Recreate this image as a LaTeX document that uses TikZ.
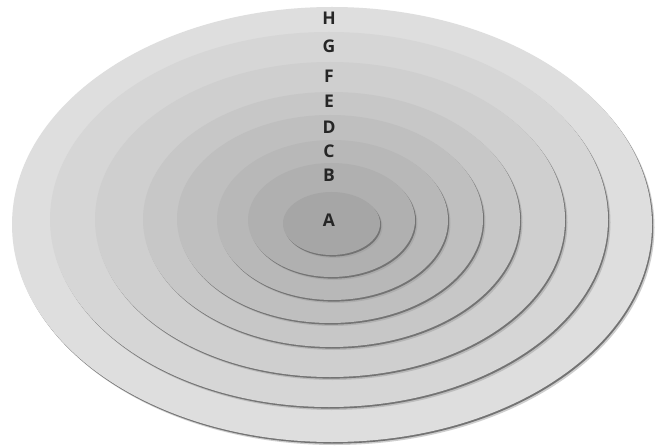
\documentclass[tikz,border=0pt]{standalone}
\usepackage{fontspec}
\setsansfont{Open Sans}
\begin{document}
\begin{tikzpicture}[x=1pt,y=-1pt,
  lbl/.style={font=\sffamily\bfseries\fontsize{17.5}{17.5}\selectfont, text=black!85, inner sep=0pt},
  shadowfar/.style={fill=black!38, opacity=0.5},
  shadownear/.style={fill=black!55}]
\useasboundingbox (0,0) rectangle (663,446);
\fill[white] (0,0) rectangle (663,446);
\foreach \nm/\cx/\cy/\rx/\ry/\g in {
  H/332/224.5/320/217.5/13,
  G/329/219.5/279/187.5/16,
  F/330/219.5/235/157.5/19,
  E/331.5/219.5/188.5/127.5/22,
  D/330/219/153/104/25,
  C/332.5/220/115.5/80/28,
  B/331.5/220/83.5/57/31,
  A/331.5/223.5/48.5/31.5/35}{
  \fill[shadowfar] (\cx+2.5,\cy+3) ellipse [x radius=\rx, y radius=\ry];
  \fill[shadownear] (\cx+1.2,\cy+1.6) ellipse [x radius=\rx, y radius=\ry];
  \fill[black!\g] (\cx,\cy) ellipse [x radius=\rx, y radius=\ry];
}
\node[lbl] (lH) at (329,18) {H};
\node[lbl] (lG) at (329,46) {G};
\node[lbl] (lF) at (329,76) {F};
\node[lbl] (lE) at (329,101) {E};
\node[lbl] (lD) at (329,127) {D};
\node[lbl] (lC) at (329,151) {C};
\node[lbl] (lB) at (329,175) {B};
\node[lbl] (lA) at (329,220) {A};
\end{tikzpicture}
\end{document}
